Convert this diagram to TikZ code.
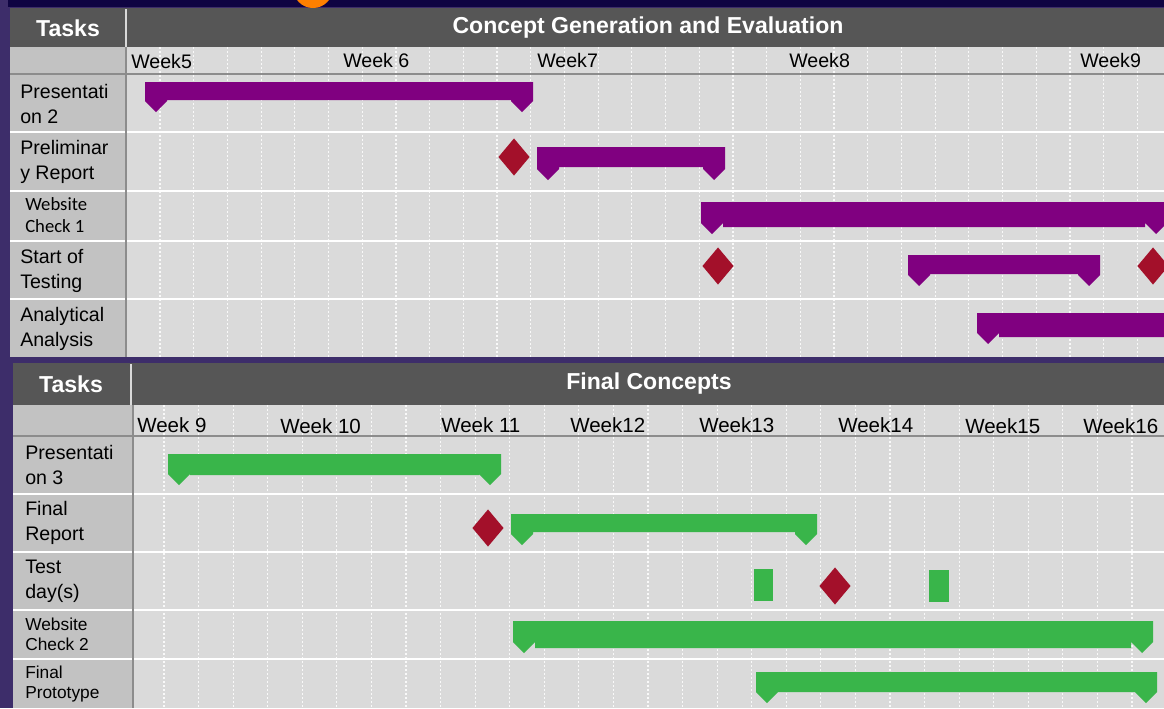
\documentclass[tikz,border=0pt]{standalone}
\usepackage{fontspec}
\setmainfont{Liberation Sans}
\newfontfamily\calibri{Carlito}
\usetikzlibrary{shapes.geometric}
\usepackage{xcolor}
\definecolor{gtpurple}{HTML}{800080}
\definecolor{gtgreen}{HTML}{39B54A}
\definecolor{gtred}{HTML}{A3102A}
\definecolor{gthead}{HTML}{565656}
\definecolor{gtcell}{HTML}{DADADA}
\definecolor{gttask}{HTML}{C2C2C2}
\definecolor{gtbg}{HTML}{3D2D6A}
\definecolor{gtnavy}{HTML}{0F0442}
\definecolor{gtline}{HTML}{8C8C8C}
% bar with down-pointing caps: colour, x1, x2, top, bottom, tip
\newcommand{\gbar}[6]{%
  \fill[#1] (#2,#4) -- (#3,#4) -- (#3,#6-11) -- (#3-11,#6) -- (#3-22,#6-11)
    -- (#3-22,#5) -- (#2+22,#5) -- (#2+22,#6-11) -- (#2+11,#6) -- (#2,#6-11) -- cycle;}

\begin{document}
\begin{tikzpicture}[x=0.75pt,y=-0.75pt,font=\fontsize{14.7}{18.75}\selectfont,
        hd/.style={text=white,font=\fontsize{17.3}{20}\selectfont\bfseries},
        tk/.style={anchor=west,align=left,inner sep=0pt},
        wk/.style={anchor=base west,inner sep=0pt},
        gl/.style={white,line width=0.9pt,dash pattern=on 1.5pt off 1.5pt,opacity=0.85},
        ms/.style={diamond,fill=gtred,inner sep=0pt,minimum width=23.5pt,minimum height=28pt},
        td/.style={fill=gtgreen,inner sep=0pt,minimum width=14.5pt,minimum height=24pt}]
  \useasboundingbox (0,0) rectangle (1164,708);
  \fill[gtbg] (0,0) rectangle (1164,708);
  \fill[gtnavy] (8,0) rectangle (1164,7);
  \begin{scope}
    \clip (0,0) rectangle (1164,7);
    \fill[orange] (313,-12) circle (20);
  \end{scope}

  % upper table
  \fill[gthead] (10,8) rectangle (1164,47);
  \draw[white!85!black,line width=1pt] (126,9) -- (126,47);
  \fill[gttask] (10,47) rectangle (126,357);
  \fill[gtcell] (126,47) rectangle (1164,357);
  \foreach \k in {0,...,29}
    \draw[gl] (160+33.7*\k,47) -- (160+33.7*\k,357);
  \draw[gtline,line width=1.5pt] (10,74) -- (1164,74);
  \foreach \y in {132,191,241,299}
    \draw[white,line width=1.5pt] (10,\y) -- (1164,\y);
  \draw[gtline,line width=0.8pt] (126,47) -- (126,357);

  \node[hd] (tasksA) at (68,28) {Tasks};
  \node[hd] (titleA) at (648,28) {Concept Generation and Evaluation};
  \node[wk] (w5) at (131,68) {Week5};
  \node[wk] (w6) at (343,67) {Week 6};
  \node[wk] (w7) at (537,67) {Week7};
  \node[wk] (w8) at (789,67) {Week8};
  \node[wk] (w9a) at (1080,67) {Week9};

  \node[tk] (p2) at (20,104) {Presentati\\on 2};
  \node[tk] (pr) at (20,162) {Preliminar\\y Report};
  \node[tk,font=\calibri\fontsize{14}{17}\selectfont] (wc1) at (25,215) {Website\\Check 1};
  \node[tk] (st) at (20,271) {Start of\\Testing};
  \node[tk] (aa) at (20,329) {Analytical\\Analysis};

  \gbar{gtpurple}{145}{533}{82}{100}{112}
  \gbar{gtpurple}{537}{725}{147}{167}{180}
  \gbar{gtpurple}{701}{1167}{202}{227}{234}
  \gbar{gtpurple}{908}{1100}{255}{274}{286}
  \gbar{gtpurple}{977}{1210}{313}{337}{344}
  \node[ms] (m1) at (514,157) {};
  \node[ms] (m2) at (718,266) {};
  \node[ms] (m3) at (1153,266) {};

  % lower table
  \fill[gthead] (13,363) rectangle (1164,405);
  \draw[white!85!black,line width=1pt] (131,364) -- (131,405);
  \fill[gttask] (13,405) rectangle (133,708);
  \fill[gtcell] (133,405) rectangle (1164,708);
  \foreach \k in {0,...,28}
    \draw[gl] (164+34.57*\k,405) -- (164+34.57*\k,708);
  \draw[gtline,line width=1.5pt] (13,436) -- (1164,436);
  \foreach \y in {494,552,610,659}
    \draw[white,line width=1.5pt] (13,\y) -- (1164,\y);
  \draw[gtline,line width=0.8pt] (133,405) -- (133,708);

  \node[hd] (tasksB) at (71,384) {Tasks};
  \node[hd] (titleB) at (649,384) {Final Concepts};
  \begin{scope}[font=\fontsize{15.4}{18}\selectfont]
  \node[wk] (w9b) at (137,432) {Week 9};
  \node[wk] (w10) at (280,433) {Week 10};
  \node[wk] (w11) at (441,432) {Week 11};
  \node[wk] (w12) at (570,432) {Week12};
  \node[wk] (w13) at (699,432) {Week13};
  \node[wk] (w14) at (838,432) {Week14};
  \node[wk] (w15) at (965,433) {Week15};
  \node[wk] (w16) at (1083,433) {Week16};
  \end{scope}

  \node[tk] (p3) at (25,465) {Presentati\\on 3};
  \node[tk] (fr) at (25,523) {Final\\Report};
  \node[tk] (tdl) at (25,581) {Test\\day(s)};
  \node[tk,font=\fontsize{13}{15}\selectfont] (wc2) at (25,634) {Website\\Check 2};
  \node[tk,font=\fontsize{13}{15}\selectfont] (fp) at (25,684) {Final\\Prototype};

  \gbar{gtgreen}{168}{501}{454}{475}{485}
  \gbar{gtgreen}{511}{817}{514}{532}{545}
  \gbar{gtgreen}{513}{1153}{621}{648}{653}
  \gbar{gtgreen}{756}{1157}{672}{692}{703}
  \node[ms] (m4) at (488,528) {};
  \node[ms] (m5) at (835,586) {};
  \node[td] (d1) at (763.5,584.5) {};
  \node[td] (d2) at (939,585.5) {};
\end{tikzpicture}
\end{document}
